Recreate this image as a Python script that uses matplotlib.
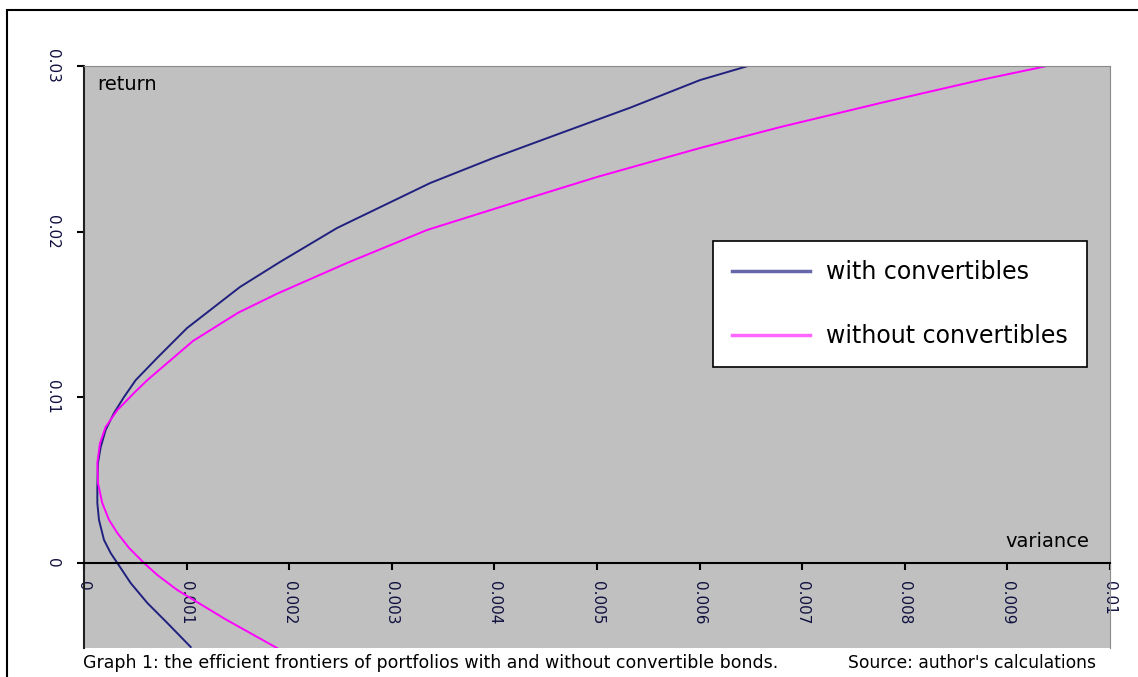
import numpy as np
import matplotlib.pyplot as plt
from matplotlib.patches import Rectangle

# efficient frontiers: (variance, return)
with_var = [1.040e-3, 0.812e-3, 0.617e-3, 0.455e-3, 0.325e-3, 0.260e-3, 0.195e-3,
            0.146e-3, 0.130e-3, 0.130e-3, 0.136e-3, 0.163e-3, 0.211e-3, 0.292e-3,
            0.390e-3, 0.504e-3, 0.721e-3, 1.004e-3, 1.520e-3, 1.910e-3, 2.466e-3,
            3.372e-3, 3.986e-3, 4.669e-3, 5.322e-3, 6.004e-3, 6.472e-3]
with_ret = [-0.00507, -0.00362, -0.00241, -0.00121, 0.0, 0.00060, 0.00139,
            0.00260, 0.00362, 0.00459, 0.00604, 0.00700, 0.00803, 0.00905,
            0.01002, 0.01104, 0.01243, 0.01418, 0.01666, 0.01817, 0.02022,
            0.02293, 0.02444, 0.02600, 0.02748, 0.02915, 0.03]

without_var = [1.881e-3, 1.380e-3, 0.909e-3, 0.714e-3, 0.585e-3, 0.439e-3,
               0.325e-3, 0.244e-3, 0.178e-3, 0.136e-3, 0.130e-3, 0.156e-3, 0.211e-3,
               0.325e-3, 0.487e-3, 0.617e-3, 1.062e-3, 1.500e-3, 1.880e-3,
               2.563e-3, 3.343e-3, 4.181e-3, 5.0e-3, 6.004e-3, 6.784e-3, 7.758e-3,
               8.733e-3, 9.386e-3]
without_ret = [-0.00513, -0.00340, -0.00163, -0.00072, 0.0, 0.00091,
               0.00181, 0.00260, 0.00362, 0.00483, 0.00604, 0.00724, 0.00821,
               0.00923, 0.01026, 0.01104, 0.01340, 0.01510, 0.01625,
               0.01811, 0.0201, 0.02173, 0.0233, 0.02505, 0.02631, 0.02776,
               0.02915, 0.03]

xticks = [0, 0.001, 0.002, 0.003, 0.004, 0.005, 0.006, 0.007, 0.008, 0.009, 0.01]
xtick_labels = ['0', '0.001', '0.002', '0.003', '0.004', '0.005', '0.006',
                '0.007', '0.008', '0.009', '0.01']
yticks = [0, 0.01, 0.02, 0.03]
ytick_labels = ['0', '0.01', '0.02', '0.03']

W, H = 1138, 677
fig = plt.figure(figsize=(W / 100, H / 100), dpi=100)
ax = fig.add_axes([84 / W, 1 - 648 / H, (1110 - 84) / W, (648 - 66) / H])
ax.set_facecolor('#c0c0c0')

# outer frame, only left and top edges are visible
fig.patches.append(Rectangle((7 / W, -0.5), 2, 0.5 + 1 - 10 / H, transform=fig.transFigure,
                             fill=False, edgecolor='black', linewidth=1.5))

ax.plot(with_var, with_ret, color='#20207f', lw=1.4, label='with convertibles')
ax.plot(without_var, without_ret, color='#ff00ff', lw=1.4, label='without convertibles')

ax.set_xlim(0, 0.01)
ax.set_ylim(-0.00513, 0.03)

ax.spines['bottom'].set_position(('data', 0))
ax.spines['bottom'].set_color('black')
ax.spines['bottom'].set_linewidth(1.5)
ax.spines['left'].set_color('#202020')
ax.spines['left'].set_linewidth(1.5)
ax.spines['top'].set_color('#8a8a8a')
ax.spines['right'].set_color('#8a8a8a')

tick_color = '#101040'
ax.set_xticks(xticks)
ax.set_xticklabels(xtick_labels, rotation=-90, color=tick_color, fontsize=11)
ax.set_yticks(yticks)
ax.set_yticklabels(ytick_labels, rotation=-90, color=tick_color, fontsize=11, va='center')
ax.tick_params(axis='x', direction='out', length=5, width=1.5, pad=8)
ax.tick_params(axis='y', direction='out', length=5, width=1.5, pad=12)

ax.text(0.013, 0.985, 'return', transform=ax.transAxes, fontsize=14, va='top', ha='left')
ax.text(0.0098, 0.0013, 'variance', fontsize=14, va='center', ha='right')

leg = ax.legend(loc='upper left', bbox_to_anchor=((713 - 84) / 1026, 1 - (241 - 66) / 582),
                fontsize=17, frameon=True, fancybox=False, edgecolor='black',
                framealpha=1, handlelength=3.3, labelspacing=1.7, borderpad=0.8,
                handletextpad=0.7, borderaxespad=0)
leg.get_frame().set_linewidth(1.2)
for line in leg.get_lines():
    line.set_linewidth(2.5)
leg.get_lines()[0].set_color('#6666aa')
leg.get_lines()[1].set_color('#ff66ff')

fig.text(83 / W, 1 - 663 / H,
         'Graph 1: the efficient frontiers of portfolios with and without convertible bonds.',
         fontsize=12.5, va='center', ha='left')
fig.text(1096 / W, 1 - 663 / H, "Source: author's calculations",
         fontsize=12.3, va='center', ha='right')

fig.savefig('out.png', dpi=100)
